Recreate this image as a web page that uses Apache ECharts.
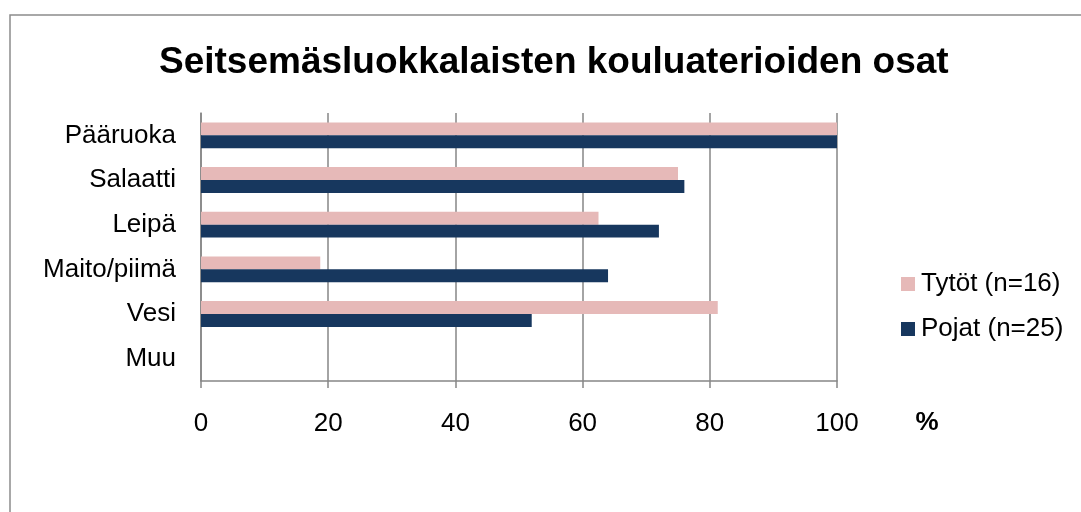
<!DOCTYPE html>
<html>
<head>
<meta charset="utf-8">
<script src="https://cdn.jsdelivr.net/npm/echarts@6/dist/echarts.min.js"></script>
<style>html,body{margin:0;padding:0;background:#fff;}#c{width:1081px;height:512px;}</style>
</head>
<body>
<div id="c"></div>
<script>
const categories = ['Pääruoka', 'Salaatti', 'Leipä', 'Maito/piimä', 'Vesi', 'Muu'];
const tytot = [100, 75, 62.5, 18.75, 81.25, 0];
const pojat = [100, 76, 72, 64, 52, 0];
const xTicks = [0, 20, 40, 60, 80, 100];
const seriesNames = ['Tytöt (n=16)', 'Pojat (n=25)'];
const titleText = 'Seitsemäsluokkalaisten kouluaterioiden osat';
const unitText = '%';

const font = '"Liberation Sans", Arial, sans-serif';
const chart = echarts.init(document.getElementById('c'), null, {renderer: 'canvas'});
chart.setOption({
  backgroundColor: '#fff',
  animation: false,
  title: {
    text: titleText, left: 154, top: 39,
    textStyle: {fontFamily: font, fontSize: 37, fontWeight: 'bold', color: '#000'}
  },
  legend: {
    orient: 'vertical', left: 896, top: 266, itemWidth: 14, itemHeight: 14, itemGap: 19,
    icon: 'rect',
    itemStyle: {borderWidth: 0},
    textStyle: {fontFamily: font, fontSize: 26, color: '#000', padding: [0,0,0,1]},
    data: seriesNames
  },
  grid: {left: 201, right: 244, top: 113, height: 268, containLabel: false},
  xAxis: {
    type: 'value', min: xTicks[0], max: xTicks[xTicks.length-1], interval: 20,
    axisLine: {show: true, lineStyle: {color: '#868686', width: 1.5}},
    axisTick: {show: true, length: 7, lineStyle: {color: '#868686', width: 1.5}},
    splitLine: {show: true, lineStyle: {color: '#868686', width: 1.5}},
    axisLabel: {fontFamily: font, fontSize: 26, color: '#000', margin: 30}
  },
  yAxis: {
    type: 'category', data: categories, inverse: true,
    axisLine: {show: true, lineStyle: {color: '#868686', width: 1.5}},
    axisTick: {show: false},
    axisLabel: {fontFamily: font, fontSize: 26, color: '#000', margin: 25}
  },
  series: [
    {name: seriesNames[0], type: 'bar', data: tytot, barGap: '0%', barCategoryGap: '42%',
     itemStyle: {color: '#E6B9B8'}},
    {name: seriesNames[1], type: 'bar', data: pojat, barGap: '0%', barCategoryGap: '42%',
     itemStyle: {color: '#17375E'}}
  ],
  graphic: [
    {type: 'rect', shape: {x: 10, y: 15, width: 1100, height: 600}, silent: true,
     style: {fill: 'none', stroke: '#8c8c8c', lineWidth: 1.5}},
    {type: 'text', x: 927, y: 423,
     style: {text: unitText, font: 'bold 26px ' + font, fill: '#000', align: 'center', verticalAlign: 'middle'}}
  ]
});
</script>
</body>
</html>
